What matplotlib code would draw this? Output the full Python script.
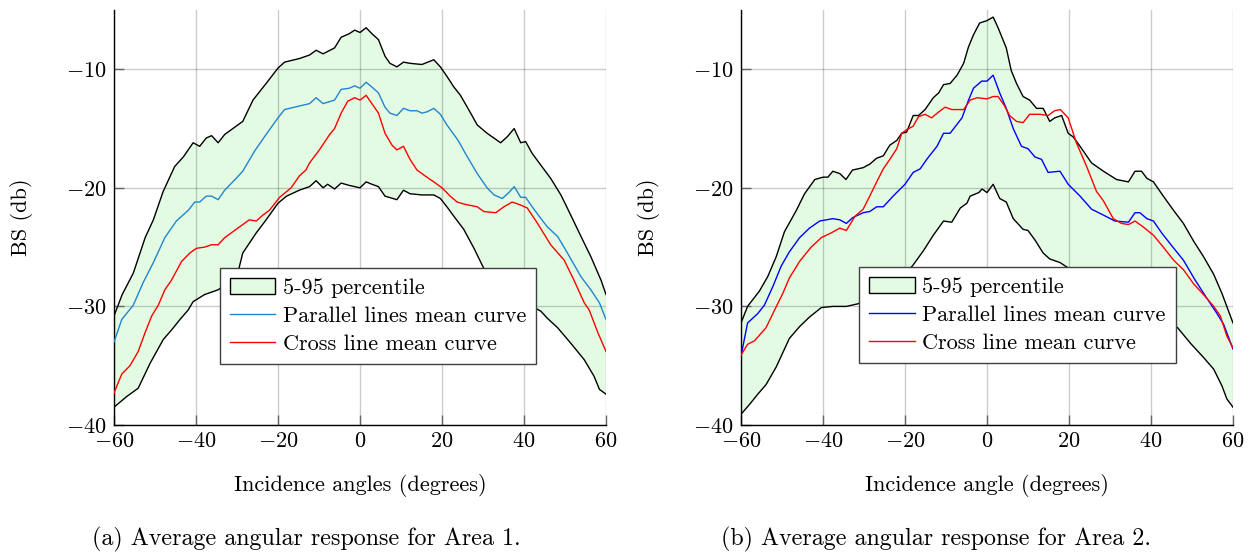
"""Average angular backscatter response for two survey areas."""

import matplotlib

matplotlib.use("Agg")

import matplotlib.pyplot as plt
import numpy as np
from matplotlib.patches import Patch

plt.rcParams["font.family"] = "serif"
plt.rcParams["font.serif"] = ["cmr10"]
plt.rcParams["mathtext.fontset"] = "cm"
plt.rcParams["axes.formatter.use_mathtext"] = True

# Area 1: 5-95 percentile envelope
A1_UPPER_X = [-60, -58, -55.3, -52.4, -50.4, -48, -45.2, -43.1, -40.7, -39.1, -37.5, -36.2, -34.6, -33, -31,
              -28.6, -26.1, -22.9, -20, -18.4, -14.8, -12.3, -10.7, -9, -6.2, -4.6, -2.6, -1.3, 0, 1.5, 2.9,
              4.5, 6.1, 7.3, 9, 10.6, 12.2, 15.1, 18, 19.6, 21.2, 22.9, 24.5, 26.5, 28.6, 31, 34.3, 35.9,
              37.6, 39.2, 40.4, 42, 43.7, 46.5, 49, 51.4, 53.9, 56.3, 58.8, 60]
A1_UPPER_Y = [-30.8, -29.0, -27.2, -24.2, -22.7, -20.3, -18.2, -17.4, -16.2, -16.5, -15.8, -15.6, -16.2, -15.5,
              -15.0, -14.4, -12.6, -11.2, -9.9, -9.4, -9.1, -8.8, -8.4, -8.7, -8.2, -7.3, -7.0, -6.7, -6.9,
              -6.5, -7.0, -7.5, -8.9, -9.5, -9.8, -9.4, -9.5, -9.6, -9.2, -9.8, -10.6, -11.5, -12.2, -13.4,
              -14.7, -15.4, -16.2, -15.7, -15.0, -16.2, -16.1, -17.1, -17.9, -19.2, -20.6, -22.3, -24.1,
              -25.8, -27.8, -29.0]
A1_LOWER_X = [-60, -56.9, -54.1, -51.2, -48, -46, -43.9, -41.9, -40.7, -37.9, -34.6, -33, -31.5, -29.6, -28.6,
              -25.3, -22.9, -20, -17.9, -14.8, -12.3, -10.7, -9, -7.9, -6.2, -4.6, -2.6, 0, 1.5, 2.9, 4.5,
              6.1, 9, 10.6, 12.2, 15.1, 18, 19.6, 21.2, 22.9, 25.3, 27.8, 30.2, 32, 34, 36, 38, 40, 42,
              44.1, 45.7, 48.2, 51.4, 54.7, 57.1, 58.4, 60]
A1_LOWER_Y = [-38.5, -37.6, -36.9, -34.8, -32.8, -32.0, -31.1, -30.3, -29.6, -29.0, -28.6, -28.2, -27.6, -26.9,
              -25.5, -23.8, -22.7, -21.3, -20.7, -20.2, -19.9, -19.4, -20.0, -19.7, -20.1, -19.6, -19.8,
              -20.0, -19.5, -19.7, -19.9, -20.7, -21.0, -20.2, -20.5, -20.6, -20.6, -20.9, -21.6, -22.4,
              -23.5, -25.1, -26.8, -27.4, -28.0, -28.6, -29.1, -29.6, -30.0, -30.4, -31.0, -31.8, -33.1,
              -34.5, -35.9, -37.0, -37.4]

# Area 1: mean curves
A1_PARALLEL_X = [-60, -58.1, -55.3, -52.9, -50.4, -47.6, -44.8, -41.9, -40.3, -39.1, -37.5, -36.2, -34.6, -33,
                 -30.2, -28.6, -25.7, -22.9, -20, -18.4, -14.8, -12.3, -10.7, -9, -6.2, -4.6, -2.6, -1.3, 0,
                 1.5, 2.9, 4.5, 6.1, 7.3, 9, 10.6, 12.2, 13.9, 15.1, 16.3, 18, 19.6, 21.2, 22.9, 24.1, 25.7,
                 28.6, 31, 32.7, 34.7, 36.3, 37.6, 39.2, 40.4, 42, 43.7, 45.7, 48.2, 50.6, 53.9, 56.3, 58.4, 60]
A1_PARALLEL_Y = [-33.0, -31.1, -29.9, -28.0, -26.3, -24.2, -22.8, -21.9, -21.2, -21.2, -20.7, -20.7, -21.0,
                 -20.2, -19.2, -18.6, -16.9, -15.5, -14.1, -13.4, -13.1, -12.9, -12.4, -12.9, -12.6, -11.7,
                 -11.6, -11.4, -11.6, -11.1, -11.5, -12.0, -13.2, -13.7, -13.9, -13.3, -13.5, -13.5, -13.7,
                 -13.6, -13.3, -13.8, -14.7, -15.5, -16.1, -17.1, -18.8, -20.0, -20.6, -20.9, -20.4, -19.9,
                 -20.8, -20.8, -21.6, -22.4, -23.3, -24.1, -25.5, -27.5, -28.6, -29.7, -31.1]
A1_CROSS_X = [-60, -58.1, -56.1, -54.1, -52.4, -50.8, -49.2, -47.6, -46, -43.5, -41.5, -39.9, -37.9, -36.2,
              -34.6, -33, -31, -28.6, -27, -25.3, -23.7, -22.1, -19.6, -16.8, -14.8, -13.2, -12.3, -9.9, -7.4,
              -6.2, -4.6, -3, -1.3, 0, 1.5, 2.9, 4.5, 6.1, 7.8, 9, 10.6, 12.2, 13.9, 15.9, 18, 20, 22, 23.7,
              25.7, 28.6, 30.2, 33.1, 35.1, 37.1, 38.8, 40.8, 43.3, 46.5, 49.8, 52.2, 54.7, 55.9, 58, 60]
A1_CROSS_Y = [-37.3, -35.7, -35.0, -33.8, -32.2, -30.8, -29.9, -28.6, -27.8, -26.2, -25.5, -25.1, -25.0, -24.8,
              -24.8, -24.2, -23.7, -23.1, -22.7, -22.8, -22.3, -21.9, -20.8, -20.0, -19.0, -18.5, -17.9,
              -16.8, -15.5, -15.0, -13.7, -12.7, -12.4, -12.6, -12.2, -12.9, -13.7, -15.4, -16.4, -16.8,
              -16.5, -17.6, -18.5, -19.0, -19.5, -20.0, -20.7, -21.2, -21.4, -21.6, -22.0, -22.1, -21.6,
              -21.2, -21.4, -21.7, -23.0, -24.8, -26.1, -27.8, -29.7, -30.3, -32.2, -33.8]

# Area 2: 5-95 percentile envelope
A2_UPPER_X = [-60, -58.4, -55.5, -53.5, -51.4, -49.4, -46.5, -44.5, -42, -40, -38.8, -37.6, -35.9, -34.4,
              -32.8, -30.2, -28.6, -26.9, -25.3, -23.7, -22, -20.8, -19.6, -18, -16.7, -15.1, -13.1, -11.8,
              -10.6, -9, -7.3, -5.7, -4.5, -3.3, -1.8, 0, 1.5, 2.7, 4.7, 5.9, 7.2, 8.8, 10.4, 12.1, 13.7,
              15.3, 16.5, 18.2, 19.8, 21, 22.7, 25.5, 28.4, 31.6, 34.5, 36.1, 37.7, 39, 40.6, 43, 45.5,
              47.9, 50.4, 52.8, 55.3, 57.3, 60]
A2_UPPER_Y = [-31.4, -30.0, -28.7, -27.5, -25.8, -23.7, -21.9, -20.5, -19.3, -19.1, -19.1, -18.6, -18.8,
              -19.3, -18.5, -18.3, -18.0, -17.5, -17.3, -16.4, -16.0, -15.4, -15.3, -13.9, -13.9, -13.4,
              -12.4, -12.0, -11.3, -11.2, -10.5, -9.5, -8.1, -7.1, -6.1, -5.9, -5.6, -6.5, -8.2, -10.1,
              -11.2, -12.3, -12.6, -13.3, -13.3, -14.4, -14.1, -13.9, -15.4, -15.7, -16.5, -17.9, -18.6,
              -19.3, -19.5, -18.6, -18.6, -19.2, -19.5, -20.7, -21.9, -23.0, -24.5, -25.8, -27.3, -28.9,
              -31.4]
A2_LOWER_X = [-60, -58, -55.9, -53.9, -51.4, -48.2, -45.7, -43.3, -40.4, -37.6, -34.3, -31.7, -30, -26, -22,
              -20, -18, -15.5, -13.1, -10.6, -8.6, -6.5, -4.9, -4.1, -2, -1.2, 0, 1.5, 3.1, 4.7, 6.4, 8.8,
              10, 11.7, 13.7, 15.3, 17.8, 20, 24, 28, 32, 36, 40, 44, 46.5, 49.6, 52.8, 55.3, 57.3, 58.5, 60]
A2_LOWER_Y = [-39.1, -38.3, -37.4, -36.6, -35.1, -32.7, -31.7, -30.9, -30.1, -30.0, -30.0, -29.8, -29.6,
              -29.0, -28.0, -27.3, -26.5, -25.3, -24.0, -22.8, -22.9, -21.7, -21.3, -20.7, -20.4, -20.1,
              -20.4, -19.7, -20.9, -21.2, -22.6, -23.5, -23.6, -24.4, -25.5, -26.0, -26.3, -26.8, -27.5,
              -28.2, -28.8, -29.5, -30.3, -31.2, -31.8, -33.1, -34.3, -35.3, -36.7, -37.8, -38.5]

# Area 2: mean curves
A2_PARALLEL_X = [-60, -58.4, -55.9, -54.3, -52.2, -50.2, -48.2, -45.7, -43.3, -40.8, -37.6, -35.9, -34.3,
                 -32.7, -30.2, -28.6, -26.9, -25.3, -22.9, -20, -18, -16.3, -14.7, -12.2, -10.6, -9, -6.1,
                 -4.5, -3.3, -1.3, 0, 1.5, 3.1, 4.7, 6.4, 8.4, 10, 11.7, 13.3, 14.9, 17.8, 19.8, 22.7, 25.5,
                 28.4, 31.2, 34.5, 36.1, 37.3, 39, 40.6, 42.6, 45.1, 47.9, 50.8, 53.6, 56.1, 57.7, 60]
A2_PARALLEL_Y = [-34.2, -31.4, -30.6, -29.9, -28.3, -26.6, -25.4, -24.2, -23.4, -22.8, -22.6, -22.7, -23.0,
                 -22.5, -22.1, -22.0, -21.6, -21.6, -20.7, -19.7, -18.7, -18.4, -17.6, -16.5, -15.4, -15.4,
                 -14.1, -12.6, -11.6, -11.0, -11.0, -10.5, -12.0, -13.3, -15.0, -16.5, -16.7, -17.4, -17.6,
                 -18.7, -18.6, -19.7, -20.7, -21.8, -22.3, -22.8, -22.9, -22.1, -22.1, -22.6, -22.8, -23.8,
                 -24.9, -26.1, -27.8, -29.3, -30.6, -31.5, -33.6]
A2_CROSS_X = [-60, -58.4, -56.7, -53.9, -51.8, -49.8, -48.2, -45.7, -42.9, -40.4, -38, -35.9, -34.3, -32.2,
              -30.2, -28.6, -26.9, -25.3, -23.7, -22, -20.8, -19.6, -18, -16.7, -15.1, -13.5, -11.8, -10.2,
              -8.6, -5.7, -4.1, -2.4, 0, 1.5, 2.7, 4.3, 5.5, 7.2, 8.8, 10.4, 12.9, 14.9, 16.5, 17.9, 19.8,
              21.8, 24.3, 26.7, 28.4, 30.8, 32.8, 34.5, 36.1, 38.1, 40.6, 43, 45.5, 47.9, 50.4, 52.8, 55.3,
              56.9, 58.5, 60]
A2_CROSS_Y = [-34.1, -33.2, -32.9, -31.8, -30.3, -28.9, -27.6, -26.2, -25.0, -24.2, -23.8, -23.4, -23.6,
              -22.4, -21.8, -20.7, -19.5, -18.4, -17.6, -16.7, -15.4, -15.1, -14.8, -14.0, -13.8, -14.1,
              -13.6, -13.2, -13.4, -13.4, -12.6, -12.4, -12.5, -12.3, -12.3, -13.1, -13.9, -14.4, -14.5,
              -13.8, -13.8, -13.9, -13.5, -13.4, -14.1, -16.2, -18.2, -20.3, -21.1, -22.6, -23.0, -23.1,
              -22.8, -23.3, -24.0, -25.0, -26.1, -26.9, -28.1, -29.0, -30.0, -30.8, -32.5, -33.5]

X_TICKS = [-60, -40, -20, 0, 20, 40, 60]
Y_TICKS = [-40, -30, -20, -10]
LEGEND_LABELS = ["5-95 percentile", "Parallel lines mean curve", "Cross line mean curve"]

BAND_COLOR = "#e3fbe3"
FONT_SIZE = 16


def _panel(fig, rect, upper, lower, parallel, cross, parallel_color, xlabel, caption, caption_x,
           legend_anchor):
    ax = fig.add_axes(rect)
    ux, uy = map(np.asarray, upper)
    lx, ly = map(np.asarray, lower)
    ax.fill(np.concatenate([ux, lx[::-1]]), np.concatenate([uy, ly[::-1]]),
            facecolor=BAND_COLOR, edgecolor="none", zorder=1)
    ax.plot(ux, uy, color="black", lw=1.0, zorder=3)
    ax.plot(lx, ly, color="black", lw=1.0, zorder=3)
    ax.plot(*parallel, color=parallel_color, lw=1.0, zorder=3)
    ax.plot(*cross, color="#ff0000", lw=1.0, zorder=3)

    ax.set_xlim(-60, 60)
    ax.set_ylim(-40, -5)
    ax.set_xticks(X_TICKS)
    ax.set_yticks(Y_TICKS)
    ax.set_axisbelow("line")
    ax.grid(True, color="black", alpha=0.2, lw=1.0)
    ax.tick_params(direction="in", length=7, width=1.0, color="#666666",
                   labelsize=FONT_SIZE, pad=5)
    for side in ("top", "right"):
        ax.spines[side].set_visible(False)
    for side in ("left", "bottom"):
        ax.spines[side].set_linewidth(1.0)

    ax.set_xlabel(xlabel, fontsize=FONT_SIZE)
    ax.xaxis.set_label_coords(0.5, -0.118)
    ax.set_ylabel("BS (db)", fontsize=FONT_SIZE)
    ax.yaxis.set_label_coords(-0.164, 0.5)
    fig.text(caption_x, 0.024, caption, ha="center", va="center", fontsize=17.3)

    handles = [
        Patch(facecolor=BAND_COLOR, edgecolor="black", lw=1.0),
        plt.Line2D([], [], color=parallel_color, lw=1.0),
        plt.Line2D([], [], color="#ff0000", lw=1.0),
    ]
    legend = ax.legend(handles, LEGEND_LABELS, loc="upper left", bbox_to_anchor=legend_anchor,
                       borderaxespad=0, fancybox=False, framealpha=1, edgecolor="#404040",
                       fontsize=FONT_SIZE, handlelength=2.05, handleheight=0.75, labelspacing=0.36,
                       handletextpad=0.35, borderpad=0.45)
    legend.get_frame().set_linewidth(1.0)
    return ax


def main():
    fig = plt.figure(figsize=(12.5, 5.53), dpi=100)
    _panel(fig, [0.0912, 0.2315, 0.3936, 0.7505],
           (A1_UPPER_X, A1_UPPER_Y), (A1_LOWER_X, A1_LOWER_Y),
           (A1_PARALLEL_X, A1_PARALLEL_Y), (A1_CROSS_X, A1_CROSS_Y),
           "#2185d0", "Incidence angles (degrees)",
           "(a) Average angular response for Area 1.", 0.245, (0.215, 0.378))
    _panel(fig, [0.5928, 0.2315, 0.3936, 0.7505],
           (A2_UPPER_X, A2_UPPER_Y), (A2_LOWER_X, A2_LOWER_Y),
           (A2_PARALLEL_X, A2_PARALLEL_Y), (A2_CROSS_X, A2_CROSS_Y),
           "#0000ff", "Incidence angle (degrees)",
           "(b) Average angular response for Area 2.", 0.749, (0.24, 0.381))
    fig.savefig("out.png", dpi=100)
    plt.close(fig)


if __name__ == "__main__":
    main()
